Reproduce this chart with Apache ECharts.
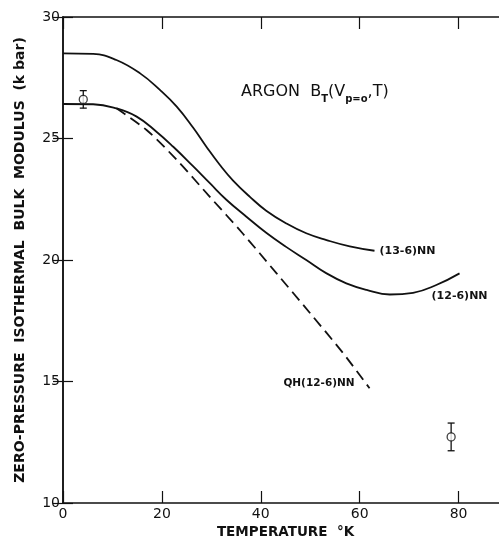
<!DOCTYPE html>
<html>
<head>
<meta charset="utf-8">
<script src="https://cdn.jsdelivr.net/npm/echarts@6/dist/echarts.min.js"></script>
<style>html,body{margin:0;padding:0;background:#fff}#c{width:499px;height:544px}</style>
</head>
<body>
<div id="c"></div>
<script>
// Temperature (K) and bulk modulus (kbar)
var t136 = [0, 6.1, 10.8, 15.6, 19.6, 23.0, 26.3, 29.0, 31.7, 34.4, 37.8, 41.1, 45.2, 49.2, 53.3, 58.0, 63.0];
var b136 = [28.5, 28.48, 28.23, 27.68, 27.0, 26.31, 25.45, 24.66, 23.92, 23.27, 22.6, 22.03, 21.5, 21.1, 20.82, 20.56, 20.38];

var t126 = [0, 6.1, 10.8, 14.9, 18.9, 22.3, 26.3, 29.7, 33.1, 37.1, 41.1, 45.2, 49.2, 53.3, 57.3, 61.4, 66.1, 70.8, 75.5, 80.2];
var b126 = [26.42, 26.41, 26.24, 25.9, 25.28, 24.66, 23.86, 23.16, 22.47, 21.78, 21.12, 20.53, 20.0, 19.45, 19.04, 18.77, 18.58, 18.65, 18.97, 19.45];

var tQH = [10.8, 16.9, 23.0, 29.7, 36.4, 43.2, 49.9, 56.6, 62.0];
var bQH = [26.24, 25.35, 24.12, 22.6, 21.08, 19.45, 17.83, 16.18, 14.72];

var expT = [4.1, 78.5];
var expB = [26.61, 12.72];
var expErr = [0.36, 0.57];

var xTicks = [0, 20, 40, 60, 80];
var yTicks = [10, 15, 20, 25, 30];

function pairs(xs, ys) { return xs.map(function (x, i) { return [x, ys[i]]; }); }

var FONT = 'DejaVu Sans';
var BFONT = 'DejaVu Sans';
var chart = echarts.init(document.getElementById('c'), null, {renderer: 'canvas'});

var axisLine = {show: true, lineStyle: {color: '#111', width: 1.5}};
var lbl = {show: true, fontFamily: BFONT, fontSize: 11, fontWeight: 'bold', color: '#111'};
chart.setOption({
  animation: false,
  backgroundColor: '#fff',
  grid: {left: 63, width: 445, top: 17, bottom: 41, containLabel: false, outerBoundsMode: 'none'},
  xAxis: [{
    type: 'value', min: 0, max: 90, interval: 20, position: 'bottom',
    axisLine: axisLine,
    axisTick: {show: true, inside: true, length: 12, lineStyle: {color: '#111', width: 1.2}},
    splitLine: {show: false},
    axisLabel: {fontFamily: FONT, fontSize: 14, color: '#111', margin: 4,
      formatter: function (v) { return xTicks.indexOf(v) >= 0 ? String(v) : ''; }},
    name: 'TEMPERATURE  °K', nameLocation: 'middle', nameGap: 21,
    nameTextStyle: {fontFamily: BFONT, fontSize: 13.5, fontWeight: 'bold', color: '#111'}
  }, {
    type: 'value', min: 0, max: 90, interval: 20, position: 'top',
    axisLine: axisLine,
    axisTick: {show: true, inside: true, length: 12, lineStyle: {color: '#111', width: 1.2}},
    axisLabel: {show: false}, splitLine: {show: false}
  }],
  yAxis: [{
    type: 'value', min: 10, max: 30, interval: 5, position: 'left',
    axisLine: axisLine,
    axisTick: {show: true, inside: true, length: 10, lineStyle: {color: '#111', width: 1.2}},
    splitLine: {show: false},
    axisLabel: {fontFamily: FONT, fontSize: 14, color: '#111', margin: 3,
      formatter: function (v) { return yTicks.indexOf(v) >= 0 ? String(v) : ''; }},
    name: 'ZERO-PRESSURE  ISOTHERMAL  BULK  MODULUS  (k bar)', nameLocation: 'middle', nameGap: 36,
    nameRotate: 90,
    nameTextStyle: {fontFamily: BFONT, fontSize: 14, fontWeight: 'bold', color: '#111'}
  }, {
    type: 'value', min: 10, max: 30, interval: 5, position: 'right',
    axisLine: axisLine,
    axisTick: {show: true, inside: true, length: 10, lineStyle: {color: '#111', width: 1.2}},
    axisLabel: {show: false}, splitLine: {show: false}
  }],
  title: {
    text: '{a|ARGON  B}{s|T}{a|(V}{s|p=o}{a|,T)}',
    left: 236, top: 79,
    textStyle: {rich: {
      a: {fontFamily: BFONT, fontSize: 16, fontWeight: 'normal', color: '#111', verticalAlign: 'bottom', lineHeight: 16},
      s: {fontFamily: BFONT, fontSize: 10, fontWeight: 'bold', color: '#111', verticalAlign: 'bottom', lineHeight: 10, padding: [0, 0, -4, 0]}
    }}
  },
  series: [{
    type: 'line', name: '(13-6)NN', data: pairs(t136, b136), smooth: 0.45, symbol: 'none',
    lineStyle: {color: '#111', width: 1.8},
    endLabel: Object.assign({formatter: '(13-6)NN', distance: 5}, lbl)
  }, {
    type: 'line', name: '(12-6)NN', data: pairs(t126, b126), smooth: 0.45, symbol: 'none',
    lineStyle: {color: '#111', width: 1.8},
    endLabel: Object.assign({formatter: '(12-6)NN', distance: 5, offset: [-33, 23]}, lbl)
  }, {
    type: 'line', name: 'QH(12-6)NN', data: pairs(tQH, bQH), smooth: 0.3, symbol: 'none',
    lineStyle: {color: '#111', width: 1.8, type: [11, 6]},
    endLabel: Object.assign({formatter: 'QH(12-6)NN', distance: 2, align: 'right', offset: [-17, -5]}, lbl, {fontSize: 10.5})
  }, {
    type: 'custom', name: 'err',
    data: expT.map(function (t, i) { return [t, expB[i] - expErr[i], expB[i] + expErr[i]]; }),
    renderItem: function (params, api) {
      var lo = api.coord([api.value(0), api.value(1)]);
      var hi = api.coord([api.value(0), api.value(2)]);
      var w = 3.5;
      var st = {stroke: '#111', lineWidth: 1.3};
      return {type: 'group', children: [
        {type: 'line', shape: {x1: lo[0], y1: lo[1], x2: hi[0], y2: hi[1]}, style: st},
        {type: 'line', shape: {x1: lo[0] - w, y1: lo[1], x2: lo[0] + w, y2: lo[1]}, style: st},
        {type: 'line', shape: {x1: hi[0] - w, y1: hi[1], x2: hi[0] + w, y2: hi[1]}, style: st}
      ]};
    }
  }, {
    type: 'scatter', name: 'exp', data: pairs(expT, expB), symbol: 'circle', symbolSize: 8,
    itemStyle: {color: '#fff', borderColor: '#111', borderWidth: 1.3}, z: 5
  }]
});
</script>
</body>
</html>
